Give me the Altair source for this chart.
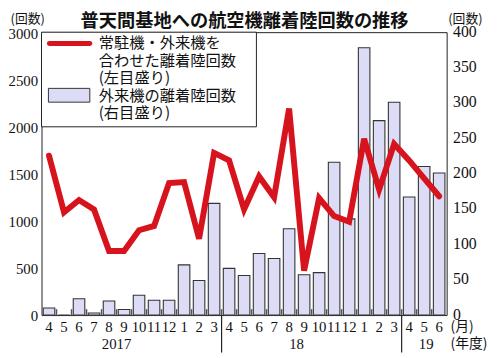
import altair as alt
import pandas as pd

# ---- data ----
keys = ["2017-04", "2017-05", "2017-06", "2017-07", "2017-08", "2017-09",
        "2017-10", "2017-11", "2017-12", "2018-01", "2018-02", "2018-03",
        "2018-04", "2018-05", "2018-06", "2018-07", "2018-08", "2018-09",
        "2018-10", "2018-11", "2018-12", "2019-01", "2019-02", "2019-03",
        "2019-04", "2019-05", "2019-06"]
visiting = [10, 0, 23, 3, 20, 8, 28, 21, 21, 71, 49, 158,
            66, 56, 87, 80, 122, 57, 60, 216, 136, 378, 275, 301,
            167, 210, 201]
total = [1690, 1090, 1220, 1120, 680, 680, 900, 945, 1400, 1410, 810, 1720,
         1640, 1120, 1470, 1250, 2190, 470, 1240, 1050, 990, 1870, 1330, 1815,
         1640, 1450, 1260]
left_ticks = [0, 500, 1000, 1500, 2000, 2500, 3000]
right_ticks = [0, 50, 100, 150, 200, 250, 300, 350, 400]
fy_start_keys = ["2018-04", "2019-04"]
year_keys_boundary = ["2017-09", "2018-09"]
year_text_boundary = ["2017", "18"]
year_keys_center = ["2019-05"]
year_text_center = ["19"]

title_text = "普天間基地への航空機離着陸回数の推移"
legend_lines = ["常駐機・外来機を", "合わせた離着陸回数", "(左目盛り)",
                "外来機の離着陸回数", "(右目盛り)"]

df = pd.DataFrame({"key": keys, "visiting": visiting, "total": total})

W, H = 411, 287
RED = "#d7141e"
BARFILL = "#dcdcf7"
JP = "Noto Sans CJK JP"
SERIF = "Liberation Serif"

xscale = alt.Scale(domain=keys, paddingInner=0, paddingOuter=0)
xaxis = alt.Axis(title=None, labelExpr="toNumber(substring(datum.value,5,7))",
                 labelAngle=0, ticks=False, domain=False, grid=False,
                 labelFont=SERIF, labelFontSize=15, labelColor="#111",
                 labelPadding=5)
X = alt.X("key:O", scale=xscale, axis=xaxis)

bars = alt.Chart(df).mark_bar(
    width=alt.RelativeBandSize(0.77), fill=BARFILL, stroke="#333", strokeWidth=1.1
).encode(
    x=X,
    y=alt.Y("visiting:Q", scale=alt.Scale(domain=[0, 400], nice=False),
            axis=alt.Axis(orient="right", values=right_ticks, title=None,
                          format="d", ticks=False, domain=False, grid=False,
                          labelFont=SERIF, labelFontSize=16, labelColor="#111",
                          labelPadding=6, labelOffset=-1)),
)

line = alt.Chart(df).mark_line(
    color=RED, strokeWidth=6, strokeJoin="miter", strokeCap="round"
).encode(
    x=X,
    y=alt.Y("total:Q", scale=alt.Scale(domain=[0, 3000], nice=False),
            axis=alt.Axis(orient="left", values=left_ticks, title=None,
                          format="d", ticks=False, domain=False, grid=False,
                          labelFont=SERIF, labelFontSize=15, labelColor="#111",
                          labelPadding=4, labelOffset=1)),
)

tick_df = pd.DataFrame({"key": keys[1:]})
ticks = alt.Chart(tick_df).mark_rule(color="#555", strokeWidth=1.5).encode(
    x=alt.X("key:O", scale=xscale, axis=xaxis, bandPosition=0),
    y=alt.value(H - 6), y2=alt.value(H),
)

sep_df = pd.DataFrame({"key": fy_start_keys})
seps = alt.Chart(sep_df).mark_rule(color="#222", strokeWidth=1.2).encode(
    x=alt.X("key:O", scale=xscale, axis=xaxis, bandPosition=0),
    y=alt.value(H), y2=alt.value(H + 38),
)

yb_df = pd.DataFrame({"key": year_keys_boundary, "t": year_text_boundary})
years_b = alt.Chart(yb_df).mark_text(
    font=SERIF, fontSize=15, color="#111", baseline="middle", align="center"
).encode(
    x=alt.X("key:O", scale=xscale, axis=xaxis, bandPosition=0),
    y=alt.value(H + 29), text="t:N",
)
yc_df = pd.DataFrame({"key": year_keys_center, "t": year_text_center})
years_c = alt.Chart(yc_df).mark_text(
    font=SERIF, fontSize=15, color="#111", baseline="middle", align="center", dx=2
).encode(
    x=alt.X("key:O", scale=xscale, axis=xaxis),
    y=alt.value(H + 29), text="t:N",
)

one = pd.DataFrame({"a": [0]})


def txt(s, x, y, size, align="left", weight="normal", font=JP):
    return alt.Chart(one).mark_text(
        text=s, font=font, fontSize=size, fontWeight=weight, align=align,
        baseline="middle", color="#111"
    ).encode(x=alt.value(x), y=alt.value(y))


legend_box = alt.Chart(one).mark_rect(fill="white", stroke="#222", strokeWidth=1).encode(
    x=alt.value(0), x2=alt.value(218), y=alt.value(0), y2=alt.value(96)
)
legend_line = alt.Chart(one).mark_rule(color=RED, strokeWidth=5, strokeCap="round").encode(
    x=alt.value(8), x2=alt.value(49), y=alt.value(11.5)
)
legend_swatch = alt.Chart(one).mark_rect(fill=BARFILL, stroke="#333", strokeWidth=1).encode(
    x=alt.value(7), x2=alt.value(49), y=alt.value(57), y2=alt.value(71)
)
leg_y = [11.5, 29.5, 47, 64.5, 82]
legend_texts = [txt(s, 58, yy, 15.5) for s, yy in zip(legend_lines, leg_y)]

title = txt(title_text, 206, -11, 18.5, align="center", weight="bold")
unit_l = txt("(回数)", -14, -13, 13, align="center")
unit_r = txt("(回数)", 430, -13, 13, align="center")
unit_m = txt("(月)", 415, H + 12, 14)
unit_y = txt("(年度)", 415, H + 29, 14)

chart = alt.layer(
    bars, line, ticks, seps, years_b, years_c,
    legend_box, legend_line, legend_swatch, *legend_texts,
    title, unit_l, unit_r, unit_m, unit_y,
).resolve_scale(y="independent").properties(
    width=W, height=H,
    autosize=alt.AutoSizeParams(type="none"),
    padding={"left": 34, "top": 22, "right": 46, "bottom": 40},
    background="white",
).configure_view(stroke="#222", strokeWidth=1)

chart.save("out.html", embed_options={"renderer": "svg", "actions": False})
